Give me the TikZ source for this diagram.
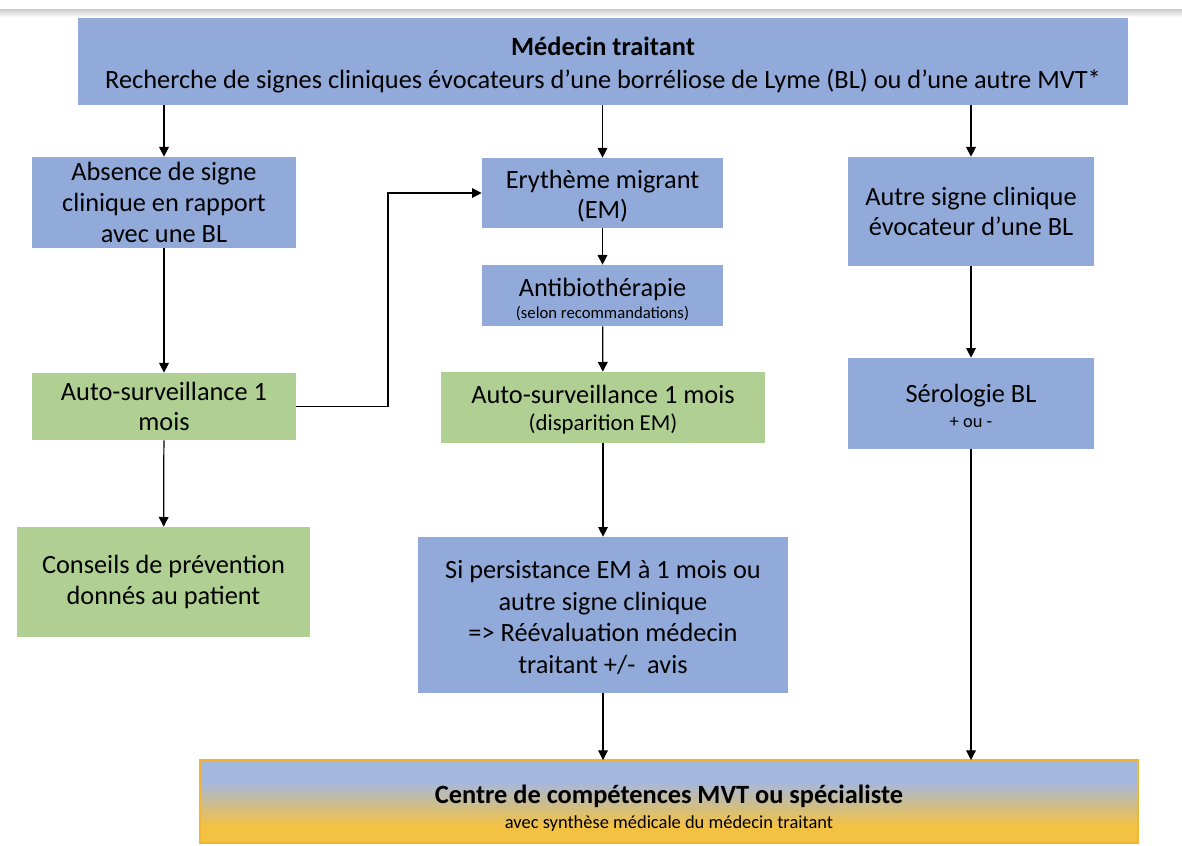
\documentclass[tikz,border=0pt]{standalone}
\usepackage{fontspec}
\setmainfont{Carlito}
\usepackage{tikz}
\usetikzlibrary{arrows.meta,positioning}
\usepackage{xcolor}
\definecolor{boxblue}{RGB}{145,170,218}
\definecolor{boxgreen}{RGB}{176,207,147}
\definecolor{amber}{RGB}{244,194,66}
\definecolor{amberline}{RGB}{240,182,52}
\definecolor{paleblue}{RGB}{164,184,222}
\definecolor{midtan}{RGB}{200,188,150}
\pgfdeclareverticalshading{centreshade}{100bp}{color(0bp)=(amber); color(35bp)=(amber); color(50bp)=(midtan); color(62bp)=(paleblue); color(100bp)=(paleblue)}

\begin{document}
\begin{tikzpicture}[x=0.02cm, y=-0.02cm,
  every node/.style={font=\fontsize{15}{17.5}\selectfont, align=center, inner sep=0pt},
  bluebox/.style={fill=boxblue},
  greenbox/.style={fill=boxgreen},
  arr/.style={-{Triangle[length=5.5pt,width=5.5pt]}, line width=0.7pt}]
  \useasboundingbox (0,0) rectangle (1182,845);
  % shadow strip
  \shade[top color=gray!40, bottom color=white] (0,9) rectangle (1182,17);
  % top box
  \node[bluebox, minimum width=21cm, minimum height=1.74cm, font=\fontsize{15}{18.5}\selectfont] (top) at (603,61.5)
    {\rule{0pt}{14.5pt}\textbf{Médecin traitant}\\Recherche de signes cliniques évocateurs d’une borréliose de Lyme (BL) ou d’une autre MVT*};
  % left column
  \node[bluebox, minimum width=5.28cm, minimum height=1.82cm] (absence) at (164,202.5)
    {Absence de signe\\clinique en rapport\\avec une BL};
  \node[greenbox, minimum width=5.28cm, minimum height=1.34cm] (autoleft) at (164,406.5)
    {Auto-surveillance 1\\mois};
  \node[greenbox, minimum width=5.86cm, minimum height=2.2cm] (conseils) at (163.5,582)
    {Conseils de prévention\\donnés au patient};
  % middle column
  \node[bluebox, minimum width=4.82cm, minimum height=1.4cm] (em) at (602.5,193)
    {\rule{0pt}{14pt}Erythème migrant\\(EM)};
  \node[bluebox, minimum width=4.82cm, minimum height=1.22cm] (antibio) at (602.5,295.5)
    {\rule{0pt}{15pt}Antibiothérapie\\[-5pt]{\fontsize{9.5}{11}\selectfont (selon recommandations)}};
  \node[greenbox, minimum width=6.48cm, minimum height=1.42cm] (automid) at (603,407.5)
    {\rule{0pt}{13pt}Auto-surveillance 1 mois\\[-2pt]{\fontsize{13}{14}\selectfont (disparition EM)}};
  \node[bluebox, minimum width=7.4cm, minimum height=3.12cm, font=\fontsize{15}{18}\selectfont] (persist) at (603,615)
    {\rule{0pt}{13pt}Si persistance EM à 1 mois ou\\autre signe clinique\\=> Réévaluation médecin\\traitant +/-~ avis};
  % right column
  \node[bluebox, minimum width=4.92cm, minimum height=2.18cm] (autre) at (971,211.5)
    {Autre signe clinique\\évocateur d’une BL};
  \node[bluebox, minimum width=4.92cm, minimum height=1.82cm] (sero) at (971,403.5)
    {\rule{0pt}{13pt}Sérologie BL\\[-3pt]{\fontsize{10.5}{12}\selectfont + ou -}};
  % bottom box
  \shade[shading=centreshade, draw=amberline, line width=0.8pt] (200,760) rectangle (1138,843);
  \node (centre) at (669,808)
    {\textbf{Centre de compétences MVT ou spécialiste}\\[-3pt]{\fontsize{10.5}{12}\selectfont avec synthèse médicale du médecin traitant}};
  \coordinate (centretop) at (669,760);
  % arrows
  \draw[arr] (top.south -| absence) -- (absence.north);
  \draw[arr] (top.south -| em) -- (em.north);
  \draw[arr] (top.south -| autre) -- (autre.north);
  \draw[arr] (absence) -- (autoleft);
  \draw[arr] (autoleft) -- (conseils);
  \coordinate (elbow) at (388,0);
  \draw[arr] (autoleft.east) -- (autoleft.east -| elbow) |- (em.west);
  \draw[arr] (em) -- (antibio);
  \draw[arr] (antibio) -- (automid);
  \draw[arr] (automid) -- (persist);
  \draw[arr] (persist.south) -- (persist.south |- centretop);
  \draw[arr] (sero.south) -- (sero.south |- centretop);
  \draw[arr] (autre) -- (sero);
\end{tikzpicture}
\end{document}
